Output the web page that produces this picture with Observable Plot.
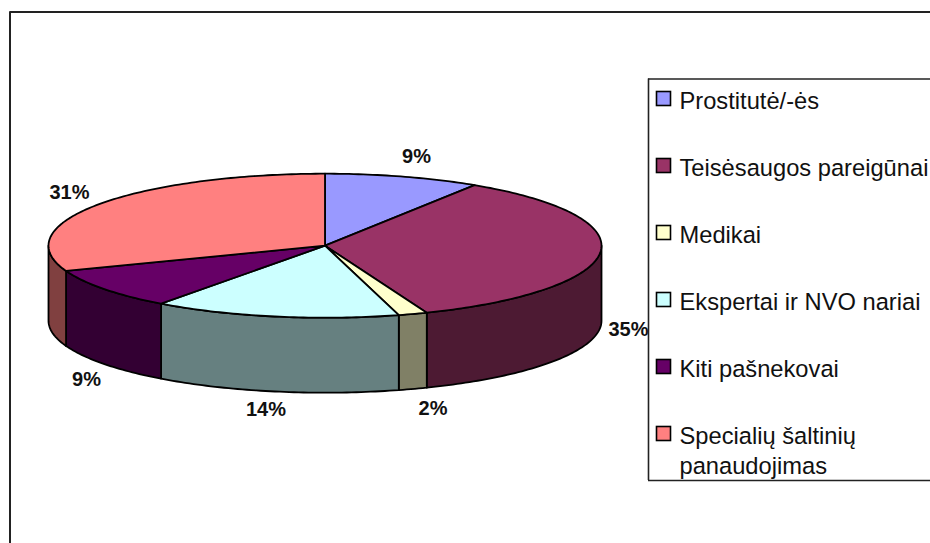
<!DOCTYPE html>
<html>
<head>
<meta charset="utf-8">
<style>
html,body{margin:0;padding:0;background:#fff;overflow:hidden}
svg{display:block}
</style>
<script src="https://cdn.jsdelivr.net/npm/d3@7"></script>
<script src="https://cdn.jsdelivr.net/npm/@observablehq/plot@0.6"></script>
</head>
<body>
<div id="chart"></div>
<script>
// Data
const categories = ["Prostitutė/-ės","Teisėsaugos pareigūnai","Medikai","Ekspertai ir NVO nariai","Kiti pašnekovai","Specialių šaltinių\npanaudojimas"];
const shares = [9.1,34.9,1.7,14.4,9.2,30.7];
const colors = ["#9999FF","#993366","#FFFFCC","#CCFFFF","#660066","#FF8080"];

// Layout
const W = 930, H = 543;
const pie = {cx:324.5, cy:245.2, rx:276.5, ry:72, depth:75};
const labelAt = [[416,156],[628,329],[432.5,408],[265.5,409.5],[86,379],[69,192]];
const legend = {x:648, top:78.5, bottom:480, keyX:663.5, textX:679, firstY:98.5, step:67, fontSize:23.7, lineGap:30};

const total = d3.sum(shares);
const point = (deg, drop=0) => {
  const a = deg*Math.PI/180;
  return {x: pie.cx + pie.rx*Math.sin(a), y: pie.cy - pie.ry*Math.cos(a) + drop};
};
const arc = (a0,a1,drop=0) => {
  const n = Math.max(2, Math.ceil(Math.abs(a1-a0)));
  return d3.range(n+1).map(i => point(a0+(a1-a0)*i/n, drop));
};
let acc = 0;
const slices = shares.map((v,i) => {
  const a0 = acc/total*360; acc += v; const a1 = acc/total*360;
  return {i, a0, a1, color: colors[i]};
});
const half = c => { const r = d3.rgb(c); return d3.rgb(r.r/2,r.g/2,r.b/2).formatHex(); };

const topPts = slices.flatMap(s => {
  const c = {x:pie.cx,y:pie.cy};
  return [c, ...arc(s.a0,s.a1), c].map(p => ({...p, key:s.i, fill:s.color}));
});
const sidePts = slices.flatMap(s => {
  const a0 = Math.max(s.a0,90), a1 = Math.min(s.a1,270);
  if (a1 <= a0) return [];
  const f = arc(a0,a1), b = arc(a1,a0,pie.depth);
  return [...f,...b,f[0]].map(p => ({...p, key:s.i, fill:half(s.color)}));
});

const labels = slices.map((s,i) => ({text: Math.round(shares[i])+"%", x:labelAt[i][0], y:labelAt[i][1]}));
const legendRows = categories.map((c,i) => ({name:c, color:colors[i], y:legend.firstY+i*legend.step}));

const font = "Liberation Sans, Arial, sans-serif";
const plot = Plot.plot({
  width:W, height:H, margin:0,
  style:{background:"#fff", fontFamily:font},
  x:{domain:[0,W], range:[0,W], axis:null},
  y:{domain:[0,H], range:[0,H], axis:null},
  marks:[
    // chart frame
    Plot.ruleX([9.5],{y1:11.5,y2:H,stroke:"#222",strokeWidth:2}),
    Plot.ruleY([11.5],{x1:9.5,x2:W,stroke:"#222",strokeWidth:2}),
    // pie
    Plot.line(sidePts,{x:"x",y:"y",z:"key",fill:"fill",stroke:"#000",strokeWidth:1.8,strokeLinejoin:"round"}),
    Plot.line(topPts,{x:"x",y:"y",z:"key",fill:"fill",stroke:"#000",strokeWidth:1.8,strokeLinejoin:"round"}),
    Plot.text(labels,{x:"x",y:"y",text:"text",fontSize:20,fontWeight:"bold",fill:"#111"}),
    // legend box
    Plot.rect([0],{x1:legend.x,x2:W,y1:legend.top,y2:legend.bottom,fill:"#fff"}),
    Plot.ruleX([legend.x],{y1:legend.top,y2:legend.bottom,stroke:"#222",strokeWidth:1.6}),
    Plot.ruleY([legend.top,legend.bottom],{x1:legend.x,x2:W,stroke:"#222",strokeWidth:1.6}),
    Plot.rect(legendRows,{x1:()=>legend.keyX-7,x2:()=>legend.keyX+7,y1:d=>d.y-7,y2:d=>d.y+7,fill:"color",stroke:"#000",strokeWidth:1.6}),
    Plot.text(legendRows,{x:()=>legend.textX,y:d=>d.y-11.5,text:"name",textAnchor:"start",lineAnchor:"top",lineHeight:legend.lineGap/legend.fontSize,fontSize:legend.fontSize,fill:"#111"})
  ]
});
document.getElementById("chart").append(plot);
</script>
</body>
</html>
